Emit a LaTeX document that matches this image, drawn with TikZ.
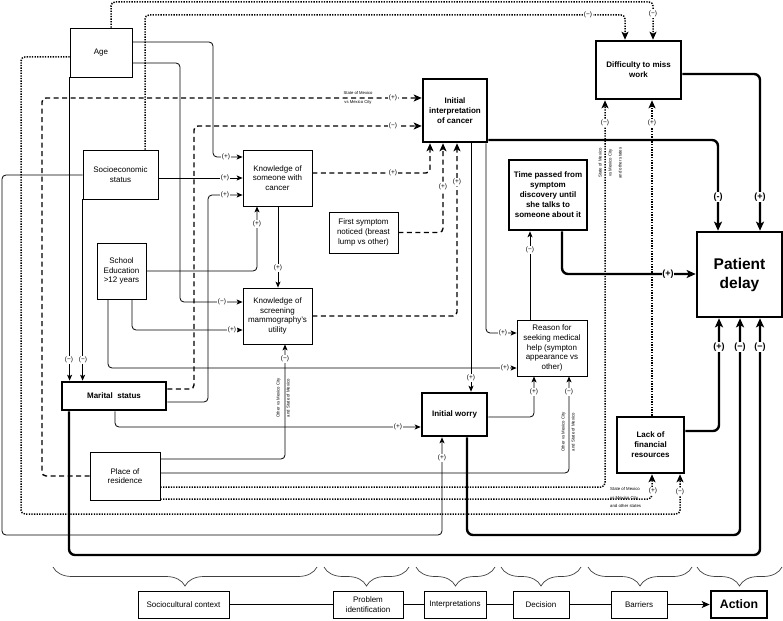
\documentclass[tikz,border=0pt]{standalone}
\usepackage{fontspec}
\setmainfont{Liberation Sans}
\usetikzlibrary{arrows.meta,decorations.pathreplacing}
\begin{document}
\begin{tikzpicture}[x=1pt,y=-1pt,
  box/.style={draw, line width=0.8pt, align=center, inner sep=1pt, font=\fontsize{8}{9.6}\selectfont},
  tbox/.style={draw, line width=2.6pt, align=center, inner sep=1pt, font=\bfseries\fontsize{8}{10}\selectfont},
  con/.style={line width=0.8pt, rounded corners=4pt, -{Stealth[length=6pt,width=5pt,inset=1.5pt]}},
  dsh/.style={line width=1.4pt, rounded corners=4pt, dash pattern=on 5pt off 3.5pt, -{Stealth[length=8pt,width=7pt,inset=2pt]}},
  dot/.style={line width=1.5pt, rounded corners=4pt, dash pattern=on 1.3pt off 1.3pt, -{Stealth[length=8pt,width=7pt,inset=2pt]}},
  thk/.style={line width=2.4pt, rounded corners=6pt, -{Stealth[length=9pt,width=8pt,inset=2pt]}},
  lbl/.style={fill=white, inner sep=0.6pt, font=\fontsize{6.5}{7}\selectfont},
  blbl/.style={fill=white, inner sep=0.8pt, font=\bfseries\fontsize{9}{10}\selectfont},
  tiny/.style={inner sep=0pt, align=center, font=\fontsize{4.3}{10}\selectfont},
  brc/.style={decorate, decoration={brace, mirror, amplitude=19pt}, line width=0.7pt, draw=black!75},
]
\useasboundingbox (0,0) rectangle (783,620);

% ---- nodes
\node[box, minimum width=62pt, minimum height=49pt] (age) at (101,52.5) {Age};
\node[box, minimum width=75pt, minimum height=49pt] (socio) at (120.5,174.5) {Socioeconomic\\status};
\node[box, minimum width=49pt, minimum height=56pt] (school) at (121.5,271) {School\\Education\\>12 years};
\node[tbox, minimum width=104pt, minimum height=28pt] (marital) at (114,396) {Marital\ \ status};
\node[box, minimum width=70pt, minimum height=48pt] (place) at (125,476) {Place of\\residence};
\node[box, minimum width=69pt, minimum height=56pt] (ksom) at (277.5,178) {Knowledge of\\someone with\\cancer};
\node[box, minimum width=69pt, minimum height=56pt] (kscr) at (277.5,316) {Knowledge of\\screening\\mammography's\\utility};
\node[box, minimum width=69pt, minimum height=41pt] (first) at (363.5,232.5) {First symptom\\noticed (breast\\lump vs other)};
\node[tbox, minimum width=64pt, minimum height=63pt] (interp) at (455,110.5) {Initial\\interpretation\\of cancer};
\node[tbox, minimum width=65pt, minimum height=43pt] (worry) at (454.5,414.5) {Initial worry};
\node[box, minimum width=70pt, minimum height=56pt] (reason) at (552,348) {Reason for\\seeking medical\\help (sympton\\appearance vs\\other)};
\node[tbox, minimum width=78pt, minimum height=70pt] (time) at (548,195) {Time passed from\\symptom\\discovery until\\she talks to\\someone about it};
\node[tbox, minimum width=85pt, minimum height=58pt] (diff) at (638.5,70) {Difficulty to miss\\work};
\node[tbox, minimum width=67pt, minimum height=56pt] (lack) at (650.5,445) {Lack of\\financial\\resources};
\node[tbox, minimum width=85pt, minimum height=85pt, font=\bfseries\fontsize{15.5}{19}\selectfont] (delay) at (739.5,274.5) {Patient\\delay};

% bottom row
\node[box, minimum width=91pt, minimum height=27pt] (soc) at (183.5,604.5) {Sociocultural context};
\node[box, minimum width=70pt, minimum height=27pt] (prob) at (368,604.5) {Problem\\identification};
\node[box, minimum width=62pt, minimum height=27pt] (interps) at (455,604.5) {Interpretations};
\node[box, minimum width=56pt, minimum height=27pt] (dec) at (541,604.5) {Decision};
\node[box, minimum width=56pt, minimum height=27pt] (bar) at (639,604.5) {Barriers};
\node[tbox, minimum width=56pt, minimum height=27pt, font=\bfseries\fontsize{12.3}{14}\selectfont] (act) at (739,604.5) {Action};

\draw[line width=0.9pt] (soc) -- (prob);
\draw[line width=0.9pt] (prob) -- (interps);
\draw[line width=0.9pt] (interps) -- (dec);
\draw[line width=0.9pt] (dec) -- (bar);
\draw[line width=0.9pt, -{Stealth[length=8pt,width=7pt,inset=2pt]}] (bar) -- (act);

\draw[brc] (53,567) -- (317,567);
\draw[brc] (324,567) -- (409,567);
\draw[brc] (416,567) -- (495,567);
\draw[brc] (501,567) -- (581,567);
\draw[brc] (588,567) -- (692,567);
\draw[brc] (697,567) -- (782,567);

% ---- connectors
% Age
\draw[con] (age.east |- 0,42) -- (213,42) -- (213,157) -- (ksom.west |- 0,157);
\draw[con] (age.east |- 0,63) -- (180,63) -- (180,302) -- (kscr.west |- 0,302);
\draw[con] (age.south west) -- (marital.north -| age.south west);
\draw[dot] (age.north -| 111,0) -- (111,2) -- (653,2) -- (diff.north -| 653,0);
\draw[dot] (age.west |- 0,57) -- (21,57) -- (21,514) -- (680,514) -- (lack.south -| 680,0);
% Socioeconomic
\draw[con] (socio.east |- 0,178) -- (ksom.west |- 0,178);
\draw[con] (socio.west |- 0,175) -- (2,175) -- (2,535) -- (442,535) -- (worry.south -| 442,0);
\draw[dot] (socio.north -| 145,0) -- (145,15) -- (625,15) -- (diff.north -| 625,0);
\draw[con] (socio.south west) -- (marital.north -| socio.south west);
% School
\draw[con] (school.east |- 0,271) -- (257,271) -- (ksom.south -| 257,0);
\draw[con] (school.south -| 132,0) -- (132,330) -- (kscr.west |- 0,330);
\draw[con] (school.south -| 108,0) -- (108,368) -- (reason.west |- 0,368);
% Marital
\draw[dsh] (marital.east |- 0,389) -- (194,389) -- (194,126) -- (interp.west |- 0,126);
\draw[con] (marital.east |- 0,402) -- (208,402) -- (208,195) -- (ksom.west |- 0,195);
\draw[con] (marital.south -| 115,0) -- (115,427) -- (worry.west |- 0,427);
\draw[thk] (marital.south -| 69,0) -- (69,555) -- (760,555) -- (delay.south -| 760,0);
% Place of residence
\draw[dsh] (place.west |- 0,476) -- (42,476) -- (42,98) -- (interp.west |- 0,98);
\draw[con] (place.east |- 0,459) -- (285,459) -- (kscr.south -| 285,0);
\draw[con] (place.east |- 0,473) -- (569,473) -- (reason.south -| 569,0);
\draw[dot] (place.east |- 0,487) -- (605,487) -- (diff.south -| 605,0);
\draw[dot] (place.east |- 0,499) -- (652,499) -- (lack.south -| 652,0);
% Knowledge
\draw[con] (ksom.south -| 278,0) -- (kscr.north -| 278,0);
\draw[dsh] (ksom.east |- 0,173) -- (430,173) -- (interp.south -| 430,0);
\draw[dsh] (kscr.east |- 0,316) -- (457,316) -- (interp.south -| 457,0);
\draw[dsh] (first.east) -- (443,232.5) -- (interp.south -| 443,0);
% Initial interpretation
\draw[thk] (interp.east |- 0,140) -- (718,140) -- (delay.north -| 718,0);
\draw[con] (interp.south -| 486,0) -- (486,333) -- (reason.west |- 0,333);
\draw[con] (interp.south -| 471,0) -- (worry.north -| 471,0);
% Initial worry
\draw[con] (worry.east |- 0,417) -- (534,417) -- (reason.south -| 534,0);
\draw[thk] (worry.south -| 467,0) -- (467,535) -- (740,535) -- (delay.south -| 740,0);
% others
\draw[con] (reason.north -| 530,0) -- (time.south -| 530,0);
\draw[thk] (time.south -| 562,0) -- (562,274) -- (delay.west |- 0,274);
\draw[thk] (diff.east |- 0,74) -- (760,74) -- (delay.north -| 760,0);
\draw[dot] (lack.north -| 652,0) -- (diff.south -| 652,0);
\draw[thk] (lack.east |- 0,431) -- (719,431) -- (delay.south -| 719,0);

% ---- connector labels
\node[lbl] (l1) at (226,157) {(+)};
\node[lbl] (l2) at (222,302) {(−)};
\node[lbl] (l3) at (69,360) {(−)};
\node[lbl] (l4) at (653,14) {(−)};
\node[lbl] (l5) at (680,492) {(−)};
\node[lbl] (l6) at (225,178) {(+)};
\node[lbl] (l7) at (442,458) {(+)};
\node[lbl] (l8) at (588,15) {(−)};
\node[lbl] (l9) at (83,360) {(−)};
\node[lbl] (l10) at (257,224) {(+)};
\node[lbl] (l11) at (232,330) {(+)};
\node[lbl] (l12) at (505,368) {(+)};
\node[lbl] (l13) at (393,126) {(−)};
\node[lbl] (l14) at (225,195) {(+)};
\node[lbl] (l15) at (398,427) {(+)};
\node[blbl] (l16) at (760,347) {(−)};
\node[lbl] (l17) at (393,98) {(+)};
\node[lbl] (l18) at (285,359) {(−)};
\node[lbl] (l19) at (569,392) {(−)};
\node[lbl] (l20) at (605,123) {(−)};
\node[lbl] (l21) at (653,491) {(+)};
\node[lbl] (l22) at (278,268) {(+)};
\node[lbl] (l23) at (393,173) {(+)};
\node[lbl] (l24) at (457,182) {(+)};
\node[lbl] (l25) at (443,187) {(+)};
\node[blbl] (l26) at (718,197) {(-)};
\node[lbl] (l27) at (503,333) {(+)};
\node[lbl] (l28) at (471,378) {(+)};
\node[lbl] (l29) at (534,392) {(+)};
\node[blbl] (l30) at (740,347) {(−)};
\node[lbl] (l31) at (530,250) {(−)};
\node[blbl] (l32) at (668,274) {(+)};
\node[blbl] (l33) at (760,197) {(+)};
\node[lbl] (l34) at (652,123) {(+)};
\node[blbl] (l35) at (719,347) {(+)};

% tiny qualifier labels
\node[tiny, font=\fontsize{4.2}{9}\selectfont] (t1) at (358,97.5) {State of Mexico\\vs Mexico City};
\node[tiny, rotate=90] (t2) at (283,398) {Other vs Mexico City\\and State of Mexico};
\node[tiny, rotate=90] (t3) at (568,432) {Other vs Mexico City\\and State of Mexico};
\node[tiny, rotate=90] (t4) at (610,163) {State of Mexico\\vs Mexico City\\and other states};
\node[tiny, align=left, anchor=west, font=\fontsize{4.3}{8.5}\selectfont] (t5) at (610,497.5) {State of Mexico\\vs Mexico City\\and other states};
\end{tikzpicture}
\end{document}
